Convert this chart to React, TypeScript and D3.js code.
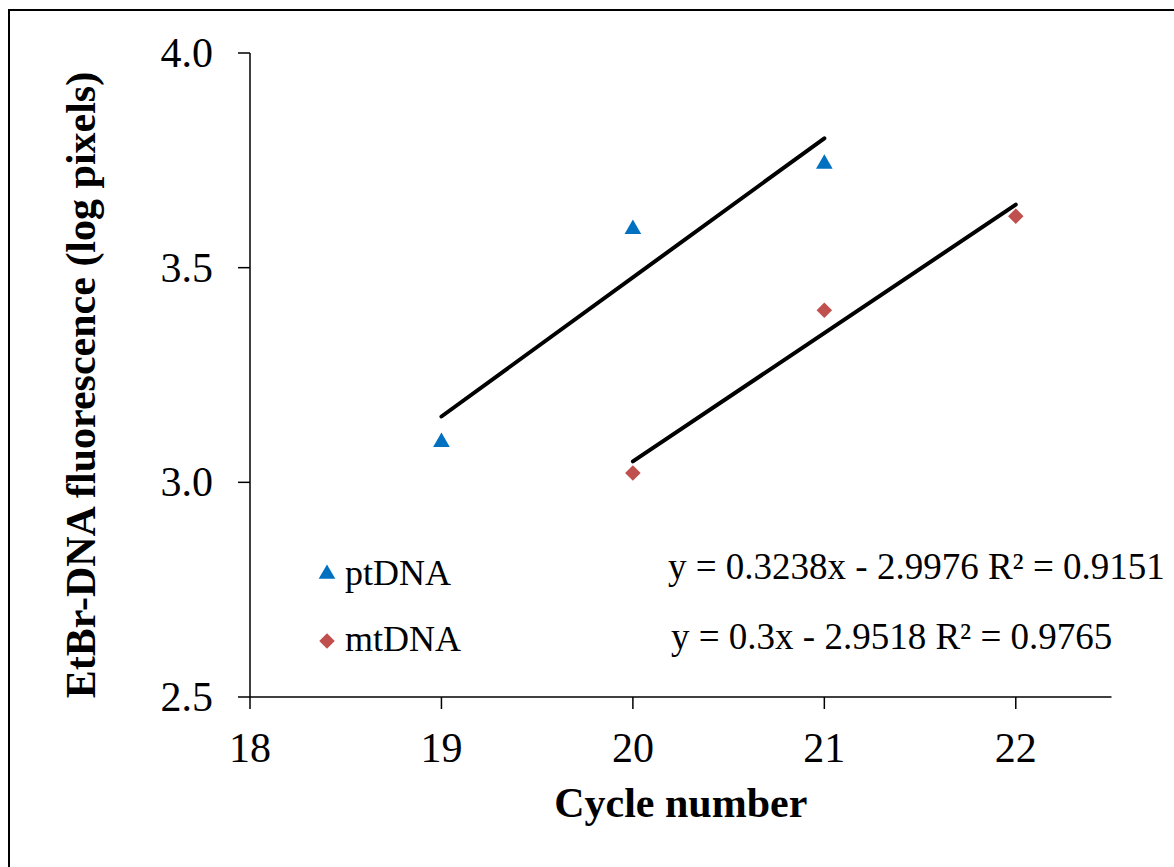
import React from "react";
import * as d3 from "d3";

const ptCycles = [19, 20, 21];
const ptValues = [3.096, 3.592, 3.744];
const mtCycles = [20, 21, 22];
const mtValues = [3.022, 3.401, 3.62];
const xTicks = [18, 19, 20, 21, 22];
const yTicks = [2.5, 3.0, 3.5, 4.0];
const seriesNames = ["ptDNA", "mtDNA"];
const equations = ["y = 0.3238x - 2.9976 R² = 0.9151", "y = 0.3x - 2.9518 R² = 0.9765"];

const W = 1174;
const H = 867;
const left = 250, right = 1111.5, top = 53, bottom = 697;

function fit(xs: number[], ys: number[]) {
  const mx = d3.mean(xs)!;
  const my = d3.mean(ys)!;
  let num = 0, den = 0;
  xs.forEach((x, i) => { num += (x - mx) * (ys[i] - my); den += (x - mx) ** 2; });
  const b = num / den;
  const a = my - b * mx;
  return (x: number) => a + b * x;
}

export default function App() {
  const x = d3.scaleLinear().domain([18, 22.5]).range([left, right]);
  const y = d3.scaleLinear().domain([2.5, 4.0]).range([bottom, top]);
  const font = "'Liberation Serif', 'Times New Roman', serif";
  const tri = d3.symbol().type(d3.symbolTriangle).size(120)()!;
  const dia = d3.symbol().type(d3.symbolSquare).size(120)()!;
  const ptFit = fit(ptCycles, ptValues);
  const mtFit = fit(mtCycles, mtValues);
  const line = d3.line<number[]>().x((d) => x(d[0])).y((d) => y(d[1]));
  const ptLine = d3.extent(ptCycles).map((c) => [c!, ptFit(c!)]);
  const mtLine = d3.extent(mtCycles).map((c) => [c!, mtFit(c!)]);
  const blue = "#0070C0";
  const red = "#C0504D";

  return (
    <svg width={W} height={H} style={{ position: "absolute", left: 0, top: 0, background: "#fff" }} fontFamily={font}>
      <rect x={9} y={10} width={1300} height={1000} fill="#fff" stroke="#000" strokeWidth={2} />
      {/* axes */}
      <line x1={left} x2={left} y1={top} y2={bottom} stroke="#000" strokeWidth={1.5} />
      <line x1={left} x2={right} y1={bottom} y2={bottom} stroke="#000" strokeWidth={1.5} />
      {yTicks.map((t) => (
        <g key={"y" + t}>
          <line x1={left - 12} x2={left} y1={y(t)} y2={y(t)} stroke="#000" strokeWidth={1.5} />
          <text x={213} y={y(t) + 14} textAnchor="end" fontSize={42}>{d3.format(".1f")(t)}</text>
        </g>
      ))}
      {xTicks.map((t) => (
        <g key={"x" + t}>
          <line x1={x(t)} x2={x(t)} y1={bottom} y2={bottom + 12} stroke="#000" strokeWidth={1.5} />
          <text x={x(t)} y={762} textAnchor="middle" fontSize={42}>{t}</text>
        </g>
      ))}
      {/* trendlines */}
      <path d={line(ptLine)!} stroke="#000" strokeWidth={4} fill="none" strokeLinecap="round" />
      <path d={line(mtLine)!} stroke="#000" strokeWidth={4} fill="none" strokeLinecap="round" />
      {/* points */}
      {ptCycles.map((c, i) => (
        <path key={"p" + i} d={tri} transform={`translate(${x(c)},${y(ptValues[i]) + 1})`} fill={blue} />
      ))}
      {mtCycles.map((c, i) => (
        <path key={"m" + i} d={dia} transform={`translate(${x(c)},${y(mtValues[i])}) rotate(45)`} fill={red} />
      ))}
      {/* legend */}
      <path d={tri} transform="translate(327,574)" fill={blue} />
      <text x={345} y={585} fontSize={36}>{seriesNames[0]}</text>
      <path d={dia} transform="translate(327,641) rotate(45)" fill={red} />
      <text x={345} y={651} fontSize={36}>{seriesNames[1]}</text>
      {/* equations */}
      <text x={668} y={579} fontSize={37}>{equations[0]}</text>
      <text x={671} y={649} fontSize={37}>{equations[1]}</text>
      {/* titles */}
      <text x={(left + right) / 2 - 0} y={817} textAnchor="middle" fontSize={42} fontWeight="bold">Cycle number</text>
      <text transform={`translate(95,385) rotate(-90)`} textAnchor="middle" fontSize={42} fontWeight="bold">EtBr-DNA fluorescence (log pixels)</text>
    </svg>
  );
}
